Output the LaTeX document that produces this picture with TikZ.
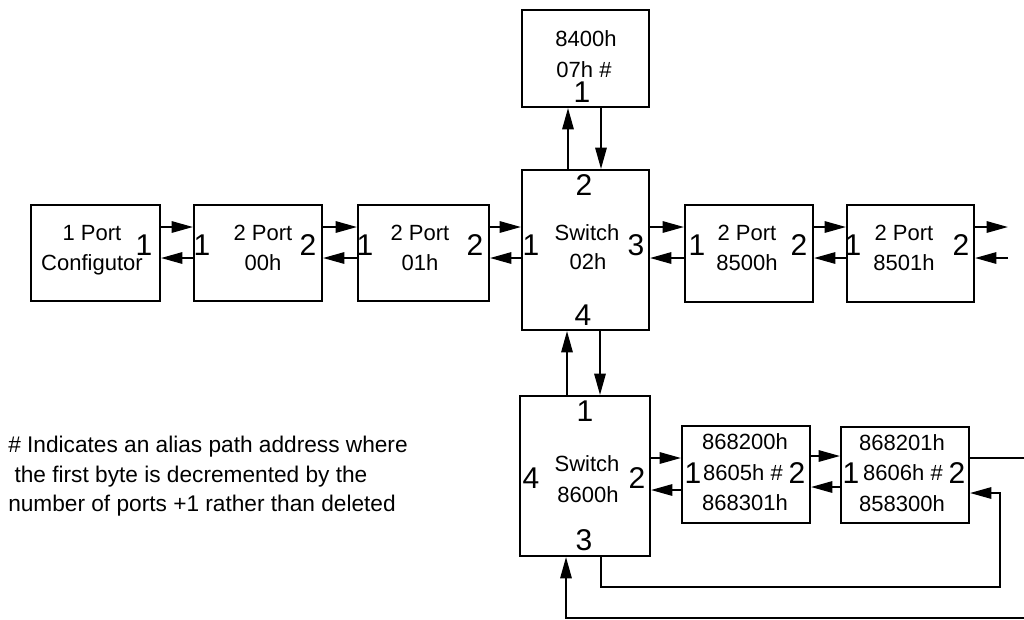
\documentclass[tikz,border=0pt]{standalone}
\usepackage{fontspec}
\setmainfont{Liberation Sans}
\usetikzlibrary{arrows.meta,fit}
\begin{document}
\begin{tikzpicture}[x=0.75pt,y=-0.75pt,
  box/.style={draw, line width=1.5pt, inner sep=0pt},
  txt/.style={anchor=base, inner sep=0pt, font=\fontsize{16.5}{20}\selectfont},
  port/.style={anchor=base, inner sep=0pt, font=\fontsize{22.5}{26}\selectfont},
  conn/.style={line width=1.5pt},
  arr/.style={conn, -{Triangle[length=16pt,width=8.5pt]}},
  note/.style={anchor=base west, inner sep=0pt, font=\fontsize{17}{20}\selectfont}]
\useasboundingbox (0,0) rectangle (1024,619);
% boxes
\node[box, fit={(31,205) (160,301)}] (cfg) {};
\node[box, fit={(194,205) (322,301)}] (p00) {};
\node[box, fit={(358,205) (489,301)}] (p01) {};
\node[box, fit={(522,170) (649,330)}] (sw02) {};
\node[box, fit={(522,10) (649,107)}] (p84) {};
\node[box, fit={(685,205) (813,302)}] (p8500) {};
\node[box, fit={(847,205) (974,302)}] (p8501) {};
\node[box, fit={(520,396) (650,556)}] (sw86) {};
\node[box, fit={(682,426) (810,523)}] (p8605) {};
\node[box, fit={(841,427) (969,523)}] (p8606) {};
% box texts
\node[txt] (t1a) at (92,240) {1 Port};
\node[txt] (t1b) at (92,270) {Configutor};
\node[txt] (t2a) at (263,240) {2 Port};
\node[txt] (t2b) at (263,270) {00h};
\node[txt] (t3a) at (420,240) {2 Port};
\node[txt] (t3b) at (420,270) {01h};
\node[txt] (t4a) at (587,240) {Switch};
\node[txt] (t4b) at (588,269) {02h};
\node[txt] (t5a) at (586,46) {8400h};
\node[txt] (t5b) at (584,77) {07h \#};
\node[txt] (t6a) at (747,240) {2 Port};
\node[txt] (t6b) at (747,270) {8500h};
\node[txt] (t7a) at (904,240) {2 Port};
\node[txt] (t7b) at (904,270) {8501h};
\node[txt] (t8a) at (587,471) {Switch};
\node[txt] (t8b) at (588,502) {8600h};
\node[txt] (t9a) at (745,449) {868200h};
\node[txt] (t9b) at (743,480) {8605h \#};
\node[txt] (t9c) at (745,510) {868301h};
\node[txt] (t10a) at (902,450) {868201h};
\node[txt] (t10b) at (903,480) {8606h \#};
\node[txt] (t10c) at (902,511) {858300h};
% port numbers
\node[port] (n1) at (144,255) {1};
\node[port] (n2) at (202,255) {1};
\node[port] (n3) at (308,255) {2};
\node[port] (n4) at (365,255) {1};
\node[port] (n5) at (475,255) {2};
\node[port] (n6) at (531,255) {1};
\node[port] (n7) at (636,255) {3};
\node[port] (n8) at (584,195) {2};
\node[port] (n9) at (583,325) {4};
\node[port] (n10) at (582,102) {1};
\node[port] (n11) at (697,255) {1};
\node[port] (n12) at (799,255) {2};
\node[port] (n13) at (853,255) {1};
\node[port] (n14) at (961,255) {2};
\node[port] (n15) at (585,421) {1};
\node[port] (n16) at (531,488) {4};
\node[port] (n17) at (637,488) {2};
\node[port] (n18) at (584,550) {3};
\node[port] (n19) at (693,483) {1};
\node[port] (n20) at (797,483) {2};
\node[port] (n21) at (851,483) {1};
\node[port] (n22) at (957,483) {2};
% note
\node[note] (m1) at (8,452) {\# Indicates an alias path address where};
\node[note] (m2) at (8,482) {\ the first byte is decremented by the};
\node[note] (m3) at (8,511) {number of ports +1 rather than deleted};
% helper coordinates
\coordinate (rA) at (0,227);
\coordinate (rB) at (0,258);
\coordinate (cU) at (568,0);
\coordinate (cD) at (601,0);
\coordinate (dU) at (567,0);
\coordinate (dD) at (600,0);
\coordinate (lA) at (0,458);
\coordinate (lB) at (0,490);
\coordinate (mA) at (0,456);
\coordinate (mB) at (0,487);
\coordinate (o1) at (1008,227);
\coordinate (o2) at (1008,258);
\coordinate (o3) at (1024,458);
\coordinate (lx) at (1000,0);
\coordinate (ly) at (0,587);
\coordinate (lr) at (0,493);
\coordinate (far) at (1024,618);
\coordinate (fx) at (566,0);
% horizontal chain
\draw[arr] (cfg.east |- rA) -- (p00.west |- rA);
\draw[arr] (p00.west |- rB) -- (cfg.east |- rB);
\draw[arr] (p00.east |- rA) -- (p01.west |- rA);
\draw[arr] (p01.west |- rB) -- (p00.east |- rB);
\draw[arr] (p01.east |- rA) -- (sw02.west |- rA);
\draw[arr] (sw02.west |- rB) -- (p01.east |- rB);
\draw[arr] (sw02.east |- rA) -- (p8500.west |- rA);
\draw[arr] (p8500.west |- rB) -- (sw02.east |- rB);
\draw[arr] (p8500.east |- rA) -- (p8501.west |- rA);
\draw[arr] (p8501.west |- rB) -- (p8500.east |- rB);
\draw[arr] (p8501.east |- rA) -- (o1);
\draw[arr] (o2) -- (p8501.east |- rB);
% vertical
\draw[arr] (sw02.north -| cU) -- (p84.south -| cU);
\draw[arr] (p84.south -| cD) -- (sw02.north -| cD);
\draw[arr] (sw86.north -| dU) -- (sw02.south -| dU);
\draw[arr] (sw02.south -| dD) -- (sw86.north -| dD);
% lower chain
\draw[arr] (sw86.east |- lA) -- (p8605.west |- lA);
\draw[arr] (p8605.west |- lB) -- (sw86.east |- lB);
\draw[arr] (p8605.east |- mA) -- (p8606.west |- mA);
\draw[arr] (p8606.west |- mB) -- (p8605.east |- mB);
\draw[conn] (p8606.east |- lA) -- (o3);
\draw[arr] (sw86.south -| cD) |- (lx |- ly) -- (lx |- lr) -- (p8606.east |- lr);
\draw[arr] (far) -| (sw86.south -| fx);
\end{tikzpicture}
\end{document}
